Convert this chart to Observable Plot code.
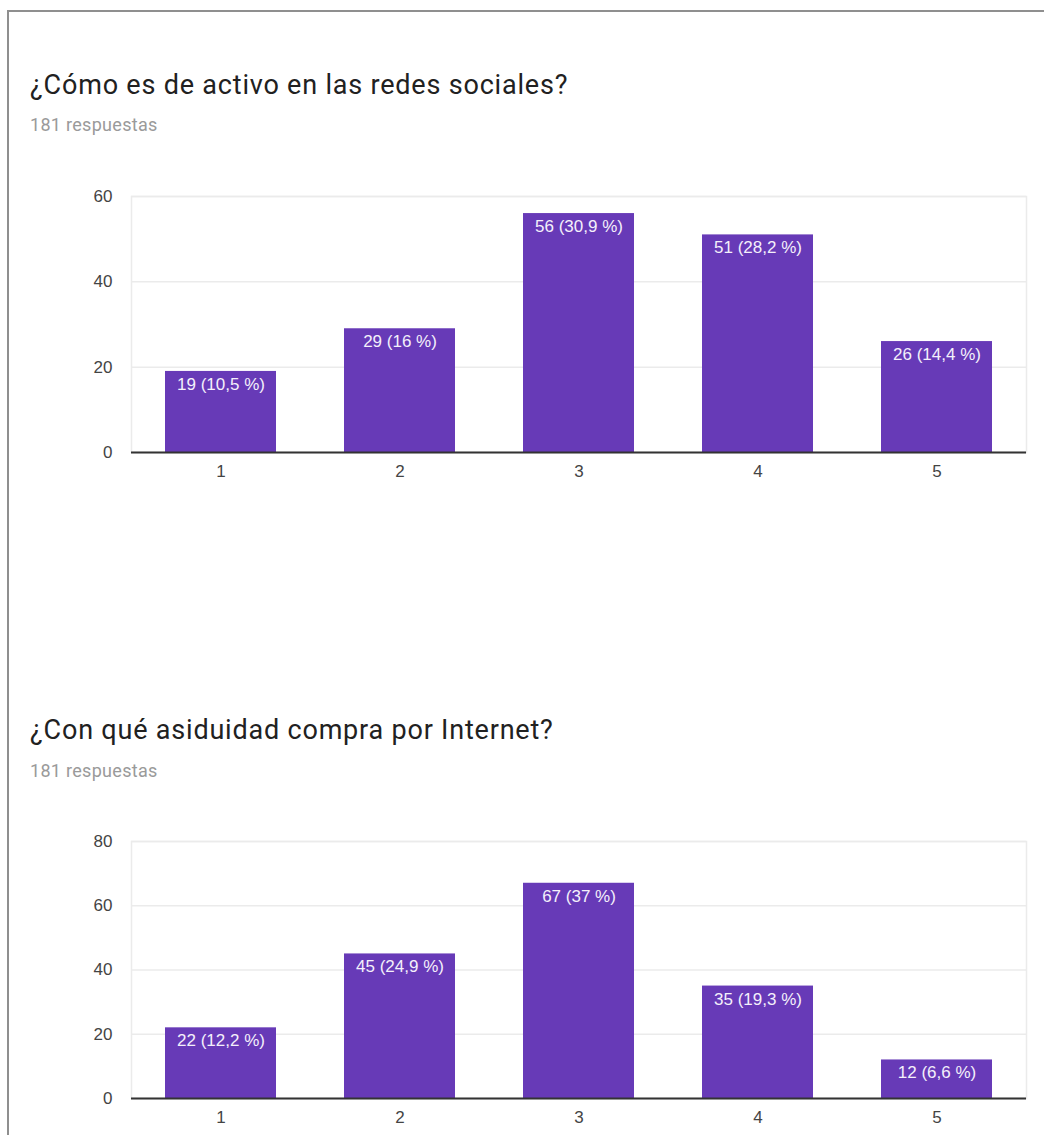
<!DOCTYPE html>
<html>
<head>
<meta charset="utf-8">
<script src="https://cdn.jsdelivr.net/npm/d3@7"></script>
<script src="https://cdn.jsdelivr.net/npm/@observablehq/plot@0.6"></script>
<style>
  html, body { margin: 0; padding: 0; background: #fff; }
  body { width: 1044px; height: 1135px; position: relative; overflow: hidden; }
  .frame { position: absolute; left: 7px; top: 10px; width: 1100px; height: 1200px;
           border-top: 2px solid #8f8f8f; border-left: 2px solid #8f8f8f; }
  .title { position: absolute; left: 30px; font-family: Roboto, sans-serif; font-size: 27px;
           letter-spacing: 0.8px; color: #212121; line-height: 30px; white-space: nowrap; }
  .sub { position: absolute; left: 30px; font-family: Roboto, sans-serif; font-size: 18px;
         letter-spacing: 0.3px; color: #9a9a9a; line-height: 20px; white-space: nowrap; }
  .chart { position: absolute; left: 0; }
</style>
</head>
<body>
<div class="frame"></div>
<div class="title" style="top:70px">¿Cómo es de activo en las redes sociales?</div>
<div class="sub" style="top:115px">181 respuestas</div>
<div class="chart" id="c1" style="top:180px"></div>
<div class="title" style="top:715px">¿Con qué asiduidad compra por Internet?</div>
<div class="sub" style="top:761px">181 respuestas</div>
<div class="chart" id="c2" style="top:825px"></div>
<script>
const categories = ["1", "2", "3", "4", "5"];
const activoValues = [19, 29, 56, 51, 26];
const activoPct = ["10,5", "16", "30,9", "28,2", "14,4"];
const compraValues = [22, 45, 67, 35, 12];
const compraPct = ["12,2", "24,9", "37", "19,3", "6,6"];
const activoTicks = [0, 20, 40, 60];
const compraTicks = [0, 20, 40, 60, 80];

function makeChart(values, pcts, ticks, height, marginTop, marginBottom) {
  const data = categories.map((c, i) => ({cat: c, value: values[i], label: `${values[i]} (${pcts[i]} %)`}));
  return Plot.plot({
    width: 1044,
    height,
    marginLeft: 131,
    marginRight: 18,
    marginTop,
    marginBottom,
    style: {fontFamily: "Arial, 'Liberation Sans', sans-serif", fontSize: "17px", color: "#444", background: "transparent"},
    x: {domain: categories, paddingInner: 0.38, paddingOuter: 0.19, label: null, tickSize: 0, tickPadding: 12},
    y: {domain: [0, d3.max(ticks)], ticks, label: null, tickSize: 0, tickPadding: 19},
    marks: [
      Plot.gridY(ticks, {stroke: "#ebebeb", strokeOpacity: 1, strokeWidth: 1.5}),
      Plot.frame({stroke: "#ebebeb", strokeWidth: 1.5}),
      Plot.barY(data, {x: "cat", y: "value", fill: "#673ab7"}),
      Plot.ruleY([0], {stroke: "#333", strokeWidth: 2}),
      Plot.text(data, {x: "cat", y: "value", text: "label", fill: "#f4f0fb", dy: 13, fontSize: 17}),
      Plot.axisY({ticks, tickSize: 0, tickPadding: 19, fill: "#444"}),
      Plot.axisX({tickSize: 0, tickPadding: 12, fill: "#444"})
    ]
  });
}

document.getElementById("c1").append(makeChart(activoValues, activoPct, activoTicks, 312, 16, 40));
document.getElementById("c2").append(makeChart(compraValues, compraPct, compraTicks, 310, 16, 37));
</script>
</body>
</html>
